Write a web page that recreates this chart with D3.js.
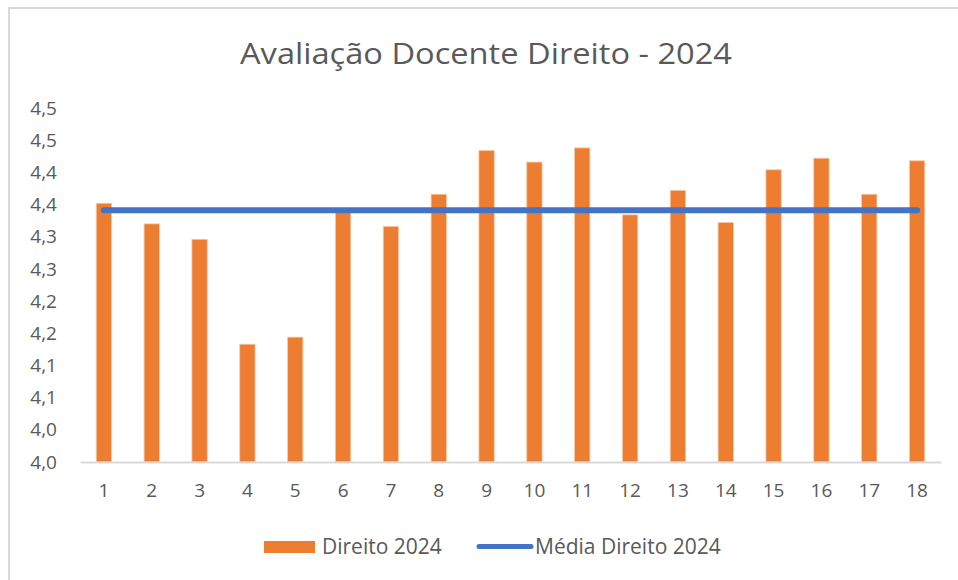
<!DOCTYPE html>
<html>
<head>
<meta charset="utf-8">
<script src="https://cdn.jsdelivr.net/npm/d3@7"></script>
<style>
  body { margin: 0; background: #fff; }
  text { font-family: "Open Sans", "Noto Sans", sans-serif; fill: #595959; }
</style>
</head>
<body>
<div id="chart"></div>
<script>
var categories = ["1", "2", "3", "4", "5", "6", "7", "8", "9", "10", "11", "12", "13", "14", "15", "16", "17", "18"];
var direito2024 = [4.402, 4.370, 4.346, 4.183, 4.194, 4.388, 4.366, 4.416, 4.484, 4.466,
    4.488, 4.384, 4.422, 4.372, 4.454, 4.472, 4.416, 4.468];
var mediaDireito2024 = [4.391, 4.391, 4.391, 4.391, 4.391, 4.391, 4.391, 4.391, 4.391, 4.391,
    4.391, 4.391, 4.391, 4.391, 4.391, 4.391, 4.391, 4.391];
var yTicks = [4.00, 4.05, 4.10, 4.15, 4.20, 4.25, 4.30, 4.35, 4.40, 4.45, 4.50, 4.55];
var yTickLabels = ["4,0", "4,0", "4,1", "4,1", "4,2", "4,2", "4,3", "4,3", "4,4", "4,4", "4,5", "4,5"];
var seriesNames = ["Direito 2024", "Média Direito 2024"];

var W = 958, H = 580;
var margin = { top: 108, right: 17, bottom: 118, left: 80 },
    width = W - margin.left - margin.right,
    height = H - margin.top - margin.bottom;

var svg = d3.select("#chart").append("svg")
    .attr("width", W)
    .attr("height", H);

// chart frame (cut off at right / bottom like the screenshot)
svg.append("rect")
    .attr("x", 9).attr("y", 8)
    .attr("width", W + 20).attr("height", H + 20)
    .attr("fill", "none")
    .attr("stroke", "#d9d9d9")
    .attr("stroke-width", 2);

svg.append("text")
    .attr("x", 486)
    .attr("y", 64)
    .attr("text-anchor", "middle")
    .attr("textLength", 492)
    .attr("lengthAdjust", "spacingAndGlyphs")
    .style("font-size", "30px")
    .text("Avaliação Docente Direito - 2024");

var g = svg.append("g")
    .attr("transform", "translate(" + margin.left + "," + margin.top + ")");

var x = d3.scaleBand()
    .domain(categories)
    .range([0, width])
    .paddingInner(0.68)
    .paddingOuter(0.34);

var y = d3.scaleLinear()
    .domain([4.0, 4.55])
    .range([height, 0]);

var yAxis = d3.axisLeft(y)
    .tickValues(yTicks)
    .tickSize(0)
    .tickPadding(23)
    .tickFormat(function(d, i) { return yTickLabels[i]; });

g.append("g")
    .attr("class", "y axis")
    .call(yAxis)
    .call(function(s) { s.select(".domain").remove(); })
    .selectAll("text")
    .style("font-size", "19px")
    .style("fill", "#595959");

g.selectAll(".bar")
    .data(direito2024)
    .enter().append("rect")
    .attr("class", "bar")
    .attr("x", function(d, i) { return x(categories[i]); })
    .attr("y", function(d) { return y(d); })
    .attr("width", x.bandwidth())
    .attr("height", function(d) { return height - y(d); })
    .attr("fill", "#ed7d31")
    .attr("stroke", "#f8c9a6")
    .attr("stroke-width", 0.8);

var xAxis = d3.axisBottom(x)
    .tickSize(0)
    .tickPadding(22);

g.append("g")
    .attr("class", "x axis")
    .attr("transform", "translate(0," + height + ")")
    .call(xAxis)
    .call(function(s) {
        s.select(".domain").attr("stroke", "#d9d9d9").attr("stroke-width", 2);
    })
    .selectAll("text")
    .style("font-size", "19px")
    .style("fill", "#595959");

var line = d3.line()
    .x(function(d, i) { return x(categories[i]) + x.bandwidth() / 2; })
    .y(function(d) { return y(d); });

g.append("path")
    .datum(mediaDireito2024)
    .attr("d", line)
    .attr("fill", "none")
    .attr("stroke", "#4472c4")
    .attr("stroke-width", 6)
    .attr("stroke-linecap", "round");

// legend
var legend = svg.append("g").attr("class", "legend");

legend.append("rect")
    .attr("x", 264).attr("y", 541)
    .attr("width", 51).attr("height", 12)
    .attr("fill", "#ed7d31");

legend.append("text")
    .attr("x", 322).attr("y", 554)
    .style("font-size", "21px")
    .text(seriesNames[0]);

legend.append("line")
    .attr("x1", 479).attr("x2", 531)
    .attr("y1", 546.5).attr("y2", 546.5)
    .attr("stroke", "#4472c4")
    .attr("stroke-width", 5)
    .attr("stroke-linecap", "round");

legend.append("text")
    .attr("x", 535).attr("y", 554)
    .style("font-size", "21px")
    .text(seriesNames[1]);
</script>
</body>
</html>
